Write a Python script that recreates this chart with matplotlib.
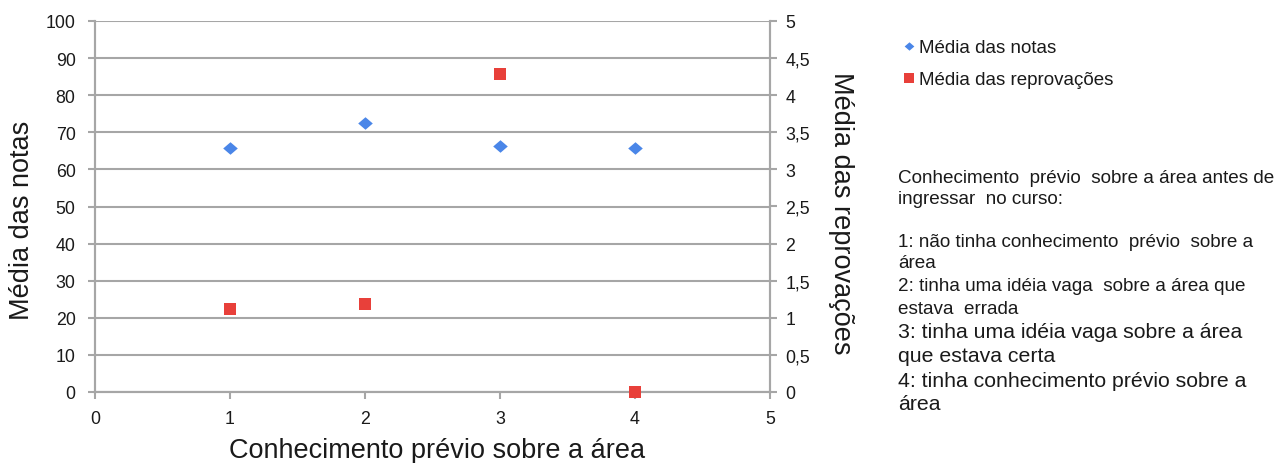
import matplotlib
matplotlib.use("Agg")
import matplotlib.pyplot as plt
from matplotlib.lines import Line2D

plt.rcParams["font.family"] = ["Liberation Sans", "DejaVu Sans"]

# Data
conhecimento = [1, 2, 3, 4]
media_notas = [65.8, 72.5, 66.2, 65.8]
media_reprovacoes = [1.12, 1.18, 4.29, 0.0]

x_ticks = [0, 1, 2, 3, 4, 5]
left_ticks = [0, 10, 20, 30, 40, 50, 60, 70, 80, 90, 100]
right_ticks = [0, 0.5, 1, 1.5, 2, 2.5, 3, 3.5, 4, 4.5, 5]
right_tick_labels = ["0", "0,5", "1", "1,5", "2", "2,5", "3", "3,5", "4", "4,5", "5"]

legend_labels = ["Média das notas", "Média das reprovações"]
nota_lines = [
    ("Conhecimento  prévio  sobre a área antes de", 183, 13.6),
    ("ingressar  no curso:", 204, 13.6),
    ("1: não tinha conhecimento  prévio  sobre a", 247, 13.6),
    ("área", 268, 13.6),
    ("2: tinha uma idéia vaga  sobre a área que", 291, 13.6),
    ("estava  errada", 314, 13.6),
    ("3: tinha uma idéia vaga sobre a área", 338, 15.3),
    ("que estava certa", 362, 15.3),
    ("4: tinha conhecimento prévio sobre a", 387, 15.3),
    ("área", 410, 15.3),
]

BLUE = "#4a86e8"
RED = "#e8403a"
GRID = "#a6a6a6"
TXT = "#1a1a1a"

W, H = 1278, 464
fig = plt.figure(figsize=(W / 100, H / 100), dpi=100)


def fx(px):
    return px / W


def fy(py):
    return 1 - py / H


ax_l, ax_r, ax_t, ax_b = 95, 770, 22, 393
ax = fig.add_axes([fx(ax_l), fy(ax_b), fx(ax_r - ax_l), (ax_b - ax_t) / H])
ax2 = ax.twinx()

diamond = [(-1, 0), (0, 0.86), (1, 0), (0, -0.86), (-1, 0)]

ax.plot(conhecimento, media_notas, linestyle="none", marker=diamond,
        markersize=10.5, color=BLUE, markeredgewidth=0, zorder=5, clip_on=False)
ax2.plot(conhecimento, media_reprovacoes, linestyle="none", marker="s",
         markersize=8.6, color=RED, markeredgewidth=0, zorder=5, clip_on=False)

ax.set_xlim(0, 5)
ax.set_ylim(0, 100)
ax2.set_ylim(0, 5)
ax.set_xticks(x_ticks)
ax.set_yticks(left_ticks)
ax2.set_yticks(right_ticks)
ax2.set_yticklabels(right_tick_labels)

ax.grid(axis="y", color=GRID, linewidth=1.5)
ax.set_axisbelow(True)

for a in (ax, ax2):
    a.spines["top"].set_visible(False)
    for side in ("left", "right", "bottom"):
        a.spines[side].set_color(GRID)
        a.spines[side].set_linewidth(1.5)

ax.tick_params(axis="both", colors=GRID, labelcolor=TXT, labelsize=12.8,
               length=5, width=1.5)
ax.tick_params(axis="y", pad=9)
ax.tick_params(axis="x", pad=8)
ax2.tick_params(axis="y", colors=GRID, labelcolor=TXT, labelsize=12.8,
                length=5, width=1.5, pad=6)

# Axis titles
fig.text(fx(22), fy(220), "Média das notas", rotation=90, ha="center",
         va="center", fontsize=19.5, color=TXT)
fig.text(fx(841), fy(213), "Média das reprovações", rotation=270,
         ha="center", va="center", fontsize=19.5, color=TXT)
fig.text(fx(437), fy(458), "Conhecimento prévio sobre a área", ha="center",
         va="baseline", fontsize=19.5, color=TXT)

# Legend
handles = [
    Line2D([], [], linestyle="none", marker=diamond, markersize=7,
           color=BLUE, markeredgewidth=0),
    Line2D([], [], linestyle="none", marker="s", markersize=7.5,
           color=RED, markeredgewidth=0),
]
fig.legend(handles, legend_labels, loc="upper left",
           bbox_to_anchor=(fx(902), fy(40)), frameon=False,
           fontsize=13.5, handlelength=0.7, handletextpad=0.2,
           labelspacing=0.8, borderpad=0, borderaxespad=0,
           labelcolor=TXT)

# Explanatory note
for texto, base, size in nota_lines:
    fig.text(fx(898), fy(base), texto, ha="left", va="baseline",
             fontsize=size, color=TXT)

fig.savefig("out.png", dpi=100)
